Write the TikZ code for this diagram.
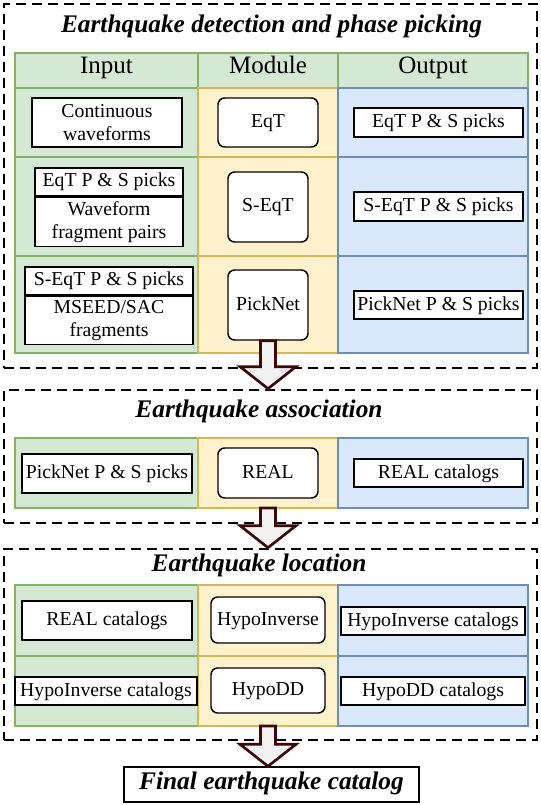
\documentclass[tikz,border=0pt]{standalone}
\usepackage{fontspec}
\setmainfont{Liberation Serif}
\usetikzlibrary{calc}
\definecolor{gfill}{HTML}{D5E8D4}
\definecolor{gline}{HTML}{82B366}
\definecolor{yfill}{HTML}{FFF2CC}
\definecolor{yline}{HTML}{D6B656}
\definecolor{bfill}{HTML}{DAE8FC}
\definecolor{bline}{HTML}{6C8EBF}
\definecolor{arrline}{HTML}{3C0808}
\definecolor{arrfill}{HTML}{F2F2F2}
\tikzset{
  wh/.style 2 args={minimum width=#1*0.75pt, minimum height=#2*0.75pt},
  txt/.style={font=\fontsize{14.8}{17.5}\selectfont, align=center, inner sep=0pt},
  one/.style={text height=0.95em, text depth=0.2em},
  ibox/.style={txt, draw=black, line width=1.1pt, fill=white},
  mbox/.style={txt, draw=black, line width=1.1pt, fill=white, rounded corners=5pt},
  head/.style={font=\fontsize{18.75}{22}\selectfont, inner sep=0pt, text height=0.72em, text depth=0.2em},
  sectitle/.style={font=\fontsize{19}{22}\selectfont\bfseries\itshape, inner sep=0pt, text height=0.9em, text depth=0.22em},
  dashbox/.style={draw=black, line width=2pt, dash pattern=on 7.5pt off 4.5pt, inner sep=0pt},
  gcell/.style={fill=gfill, draw=gline, line width=1pt},
  ycell/.style={fill=yfill, draw=yline, line width=1pt},
  bcell/.style={fill=bfill, draw=bline, line width=1pt},
  blockarr/.style={draw=arrline, fill=arrfill, line width=2pt, line join=miter},
}
\newcommand\bigarrow[2]{%
  \draw[blockarr] let \p1=(#1), \p2=(#2) in
    (\x1-5.6pt,\y1) -- (\x1-5.6pt,\y2+16.5pt) -- (\x1-21pt,\y2+16.5pt) -- (\x1,\y2)
    -- (\x1+21pt,\y2+16.5pt) -- (\x1+5.6pt,\y2+16.5pt) -- (\x1+5.6pt,\y1) -- cycle;}
\begin{document}
\begin{tikzpicture}[x=0.75pt,y=-0.75pt]
\useasboundingbox (0,0) rectangle (540,805);
\fill[white] (0,0) rectangle (540,805);

% ---------- section boxes ----------
\node[dashbox, wh={533}{364}] (sec1) at (270.5,186) {};
\node[dashbox, wh={533}{133}] (sec2) at (270.5,456.5) {};
\node[dashbox, wh={533}{191}] (sec3) at (270.5,644.5) {};

\node[sectitle] (t1) at (271.5,28) {Earthquake detection and phase picking};
\node[sectitle] (t2) at (259,413) {Earthquake association};
\node[sectitle] (t3) at (259,567) {Earthquake location};

% ---------- table 1 ----------
\draw[gcell] (15,53) rectangle (198,88);
\draw[gcell] (198,53) rectangle (338,88);
\draw[gcell] (338,53) rectangle (528,88);
\foreach \a/\b in {88/157,157/256,256/353}{
  \draw[gcell] (15,\a) rectangle (198,\b);
  \draw[ycell] (198,\a) rectangle (338,\b);
  \draw[bcell] (338,\a) rectangle (528,\b);
}
\node[head] (hin) at (106.5,70.5) {Input};
\node[head] (hmod) at (268,70.5) {Module};
\node[head] (hout) at (433,70.5) {Output};

\node[ibox, wh={150}{49}] (cont) at (107,122.5) {Continuous\\waveforms};
\node[mbox, one, wh={100}{49}] (eqt) at (268,122.5) {EqT};
\node[ibox, one, wh={169}{29}] (eqtout) at (438.5,122.5) {EqT P \& S picks};

\node[ibox, one, wh={148}{28}] (eqtin) at (109,182) {EqT P \& S picks};
\node[ibox, wh={148}{49}, anchor=north] (wfp) at (eqtin.south) {Waveform\\fragment pairs};
\node[mbox, one, wh={80}{70}] (seqt) at (268,207) {S-EqT};
\node[ibox, one, wh={169}{29}] (seqtout) at (438.5,206.5) {S-EqT P \& S picks};

\node[ibox, one, wh={168}{28}] (seqtin) at (109,281) {S-EqT P \& S picks};
\node[ibox, wh={168}{48}, anchor=north] (mseed) at (seqtin.south) {MSEED/SAC\\fragments};
\node[mbox, one, wh={80}{70}] (picknet) at (268,305) {PickNet};
\node[ibox, one, wh={169}{28}] (pickout) at (438.5,305) {PickNet P \& S picks};

% ---------- table 2 ----------
\draw[gcell] (15,438) rectangle (198,508);
\draw[ycell] (198,438) rectangle (338,508);
\draw[bcell] (338,438) rectangle (528,508);
\coordinate (t2b) at (268,508);
\node[ibox, one, wh={170}{39}] (pickin) at (107,473.5) {PickNet P \& S picks};
\node[mbox, one, wh={100}{50}] (real) at (268,473) {REAL};
\node[ibox, one, wh={169}{28}] (realout) at (438.5,473) {REAL catalogs};

% ---------- table 3 ----------
\foreach \a/\b in {585/656,656/726}{
  \draw[gcell] (15,\a) rectangle (198,\b);
  \draw[ycell] (198,\a) rectangle (338,\b);
  \draw[bcell] (338,\a) rectangle (528,\b);
}
\coordinate (t3b) at (268,726);
\node[ibox, one, wh={170}{39}] (realin) at (107,620.5) {REAL catalogs};
\node[mbox, one, wh={114}{46}] (hypoinv) at (268,620) {HypoInverse};
\node[ibox, one, wh={184}{28}] (hinvout) at (433,621) {HypoInverse catalogs};
\node[ibox, one, wh={182}{28}] (hinvin) at (106,691) {HypoInverse catalogs};
\node[mbox, one, wh={114}{45}] (hypodd) at (268,690.5) {HypoDD};
\node[ibox, one, wh={184}{28}] (hddout) at (433,691) {HypoDD catalogs};

% ---------- final ----------
\node[ibox, sectitle, draw=black, line width=1.1pt, wh={295}{35}] (final) at (271.5,784.5) {Final earthquake catalog};

% ---------- arrows ----------
\bigarrow{picknet.south}{picknet.south |- sec2.north}
\bigarrow{t2b}{t2b |- sec3.north}
\bigarrow{t3b}{t3b |- final.north}
\end{tikzpicture}
\end{document}
